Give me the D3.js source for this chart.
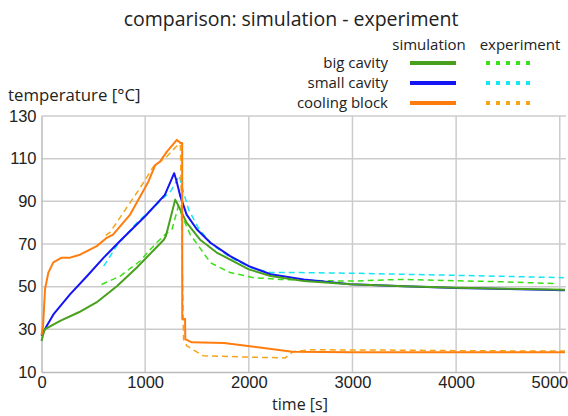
<!DOCTYPE html>
<html>
<head>
<meta charset="utf-8">
<script src="https://cdn.jsdelivr.net/npm/d3@7"></script>
<style>
  body { margin: 0; background: #fff; }
  svg { font-family: "Open Sans", "DejaVu Sans", sans-serif; }
</style>
</head>
<body>
<div id="chart"></div>
<script>
// time [s] and temperature [°C]
const bigSimT = [0, 30, 180, 360, 530, 730, 920, 1180, 1200, 1290, 1320, 1400, 1530, 1690, 2000, 2210, 2530, 2980, 3500, 4000, 4500, 5050];
const bigSimV = [24.5, 30, 34, 38, 42.6, 50.3, 59, 72, 73.7, 90.8, 88, 80, 72, 66, 58.1, 55, 52.6, 51.1, 50.2, 49.5, 49, 48.6];

const bigExpT = [580, 760, 950, 1110, 1210, 1260, 1320, 1370, 1435, 1560, 1630, 1820, 2050, 2300, 2700, 3000, 3460, 4000, 4500, 4980];
const bigExpV = [51, 55, 62, 70.6, 75.2, 77, 87.7, 81.5, 74.4, 66, 61.2, 56.6, 54.2, 53.4, 52.8, 52.6, 53.4, 52.8, 52.2, 51.4];

const smallSimT = [0, 50, 115, 275, 440, 600, 760, 1000, 1190, 1280, 1300, 1340, 1400, 1500, 1630, 1820, 2000, 2210, 2530, 2980, 3500, 4000, 4500, 5050];
const smallSimV = [27, 31.6, 37, 46.4, 55, 63.6, 71.5, 83, 93, 103.2, 100, 92.3, 83.8, 76.8, 70.6, 64.3, 59.6, 55.8, 53.4, 51.1, 50.2, 49.4, 48.9, 48.3];

const smallExpT = [600, 730, 920, 1100, 1250, 1330, 1360, 1420, 1520, 1650, 1830, 2020, 2210, 2500, 3000, 3500, 4000, 4500, 5040];
const smallExpV = [59.6, 69.5, 80, 88, 95, 102, 96, 86, 77, 69.5, 63.5, 58.9, 56.6, 56.6, 56.3, 55.8, 55.3, 54.8, 54.2];

const coolSimT = [0, 15, 34, 66, 114, 195, 275, 372, 533, 630, 690, 855, 952, 1032, 1097, 1145, 1210, 1306, 1340, 1357, 1358, 1385, 1387, 1450, 1760, 2420, 3000, 4000, 5050];
const coolSimV = [27.3, 31.6, 48.8, 56.6, 61.4, 63.6, 63.6, 65, 69, 72.9, 74.4, 83.8, 92.3, 99.3, 107, 108.7, 113.3, 118.8, 117.4, 117.4, 34.8, 34.8, 25.4, 23.9, 23.6, 19.5, 19.3, 19.3, 19.2];

const coolExpT = [620, 660, 820, 950, 1080, 1210, 1300, 1330, 1340, 1370, 1400, 1560, 2000, 2350, 2430, 2600, 3300, 4000, 5050];
const coolExpV = [74, 75.4, 86.9, 96.2, 106.3, 111, 115.7, 117, 116, 25.4, 22.3, 17.6, 17, 16.6, 19.6, 20.4, 20.3, 20, 19.8];

const xTicks = [0, 1000, 2000, 3000, 4000, 5000];
const yTicks = [10, 30, 50, 70, 90, 110, 130];

const seriesNames = ["big cavity", "small cavity", "cooling block"];
const simColors = ["#48a01c", "#1414f5", "#ff7d0f"];
const expColors = ["#3ce01a", "#14e6f5", "#f5a51a"];

const W = 568, H = 416;
const margin = {left: 41.5, right: 2, top: 116, bottom: 44};

const svg = d3.select("#chart").append("svg")
  .attr("width", W)
  .attr("height", H);

const x = d3.scaleLinear().domain([0, 5060]).range([margin.left, W - margin.right]);
const y = d3.scaleLinear().domain([10, 130]).range([H - margin.bottom, margin.top]);

// grid
svg.append("g").selectAll("line").data(xTicks.slice(1)).join("line")
  .attr("x1", d => x(d)).attr("x2", d => x(d))
  .attr("y1", y(10)).attr("y2", y(130))
  .attr("stroke", "#cccccc").attr("stroke-width", 1.5);
svg.append("g").selectAll("line").data(yTicks.slice(1)).join("line")
  .attr("x1", x(0)).attr("x2", W - margin.right)
  .attr("y1", d => y(d)).attr("y2", d => y(d))
  .attr("stroke", "#cccccc").attr("stroke-width", 1.5);

// axes
const xAxis = svg.append("g")
  .attr("transform", `translate(0,${y(10)})`)
  .call(d3.axisBottom(x).tickValues(xTicks).tickFormat(d3.format("d")).tickSize(0).tickPadding(4));
xAxis.select(".domain").attr("stroke", "#bbbbbb").attr("stroke-width", 1.5);
xAxis.selectAll("text").attr("font-size", 16.5).attr("fill", "#222")
  .attr("font-family", "inherit")
  .attr("text-anchor", d => d === 5000 ? "end" : "middle")
  .attr("dx", d => d === 5000 ? 8 : 0);

const yAxis = svg.append("g")
  .attr("transform", `translate(${x(0)},0)`)
  .call(d3.axisLeft(y).tickValues(yTicks).tickSize(0).tickPadding(5));
yAxis.select(".domain").attr("stroke", "#bbbbbb").attr("stroke-width", 1.5);
yAxis.selectAll("text").attr("font-size", 16.5).attr("fill", "#222")
  .attr("font-family", "inherit");

// lines
const line = d3.line().x(d => x(d[0])).y(d => y(d[1]));
const zip = (ts, vs) => ts.map((t, i) => [t, vs[i]]);

const plot = svg.append("g");
const expData = [zip(bigExpT, bigExpV), zip(smallExpT, smallExpV), zip(coolExpT, coolExpV)];
const simData = [zip(bigSimT, bigSimV), zip(smallSimT, smallSimV), zip(coolSimT, coolSimV)];

[1, 0, 2].forEach(i => {
  plot.append("path").datum(expData[i])
    .attr("fill", "none").attr("stroke", expColors[i])
    .attr("stroke-width", 1.5).attr("stroke-dasharray", "6,4")
    .attr("d", line);
});
[1, 0, 2].forEach(i => {
  plot.append("path").datum(simData[i])
    .attr("fill", "none").attr("stroke", simColors[i])
    .attr("stroke-width", 2).attr("stroke-linejoin", "round")
    .attr("d", line);
});

// titles
svg.append("text").attr("x", 291).attr("y", 26)
  .attr("text-anchor", "middle").attr("font-size", 19.5).attr("fill", "#222")
  .text("comparison: simulation - experiment");
svg.append("text").attr("x", 8).attr("y", 101)
  .attr("font-size", 16.8).attr("fill", "#222")
  .text("temperature [°C]");
svg.append("text").attr("x", 300).attr("y", 410)
  .attr("text-anchor", "middle").attr("font-size", 16).attr("fill", "#222")
  .text("time [s]");

// legend
const leg = svg.append("g").attr("font-size", 15).attr("fill", "#222");
leg.append("text").attr("x", 429).attr("y", 50).attr("text-anchor", "middle").text("simulation");
leg.append("text").attr("x", 520).attr("y", 50).attr("text-anchor", "middle").text("experiment");
seriesNames.forEach((name, i) => {
  const yy = 63 + i * 20;
  leg.append("text").attr("x", 388).attr("y", yy + 5).attr("text-anchor", "end").text(name);
  leg.append("line").attr("x1", 410).attr("x2", 456).attr("y1", yy).attr("y2", yy)
    .attr("stroke", simColors[i]).attr("stroke-width", 4);
  leg.append("line").attr("x1", 486).attr("x2", 532).attr("y1", yy).attr("y2", yy)
    .attr("stroke", expColors[i]).attr("stroke-width", 4).attr("stroke-dasharray", "4,6");
});
</script>
</body>
</html>
